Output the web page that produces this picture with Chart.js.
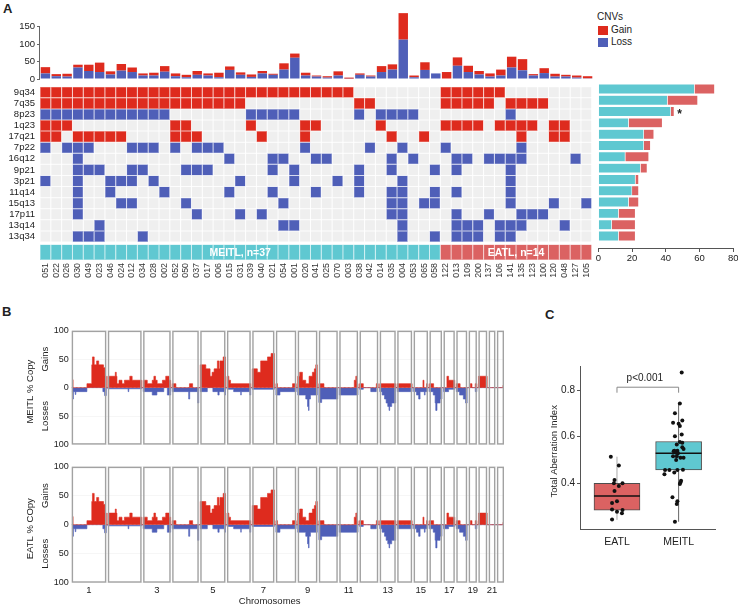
<!DOCTYPE html>
<html>
<head>
<meta charset="utf-8">
<script src="https://cdn.jsdelivr.net/npm/chart.js@4.4.1/dist/chart.umd.min.js"></script>
<style>
  html, body { margin: 0; background: #fff; overflow: hidden; }
  #page { position: relative; width: 738px; height: 606px; overflow: hidden; font-family: 'Liberation Sans', Arial, sans-serif; color: #222; }
  #page canvas { position: absolute; }
  .txt { position: absolute; white-space: nowrap; }
  .panel { position: absolute; font-weight: bold; font-size: 13px; }
  .sw { position: absolute; width: 10px; height: 9px; }
</style>
</head>
<body>
<div id="page">
  <div class="panel" style="left:3px;top:1px">A</div>
  <div class="panel" style="left:2px;top:304px">B</div>
  <div class="panel" style="left:545px;top:307px">C</div>

  <div class="txt" style="left:597px;top:11px;font-size:10px">CNVs</div>
  <div class="sw" style="left:598px;top:26px;background:#de2b1e"></div>
  <div class="txt" style="left:611px;top:24px;font-size:10px">Gain</div>
  <div class="sw" style="left:598px;top:38px;background:#4f5fb8"></div>
  <div class="txt" style="left:611px;top:36px;font-size:10px">Loss</div>

  <canvas id="topBars" width="600" height="87" style="left:0;top:0"></canvas>
  <canvas id="heatmap" width="600" height="220" style="left:0;top:76px"></canvas>
  <canvas id="sideBars" width="185" height="190" style="left:560px;top:76px"></canvas>
  <canvas id="genomeMeitl" width="520" height="135" style="left:0;top:318px"></canvas>
  <canvas id="genomeEatl" width="520" height="151" style="left:0;top:455px"></canvas>
  <canvas id="boxChart" width="218" height="256" style="left:520px;top:350px"></canvas>
</div>
<script>
// ---- panel A data ----
const samples = ['051','022','026','030','049','023','046','024','012','034','028','002','052','050','037','017','006','015','031','039',
  '040','021','054','001','020','041','025','070','003','038','042','014','035','004','053','065','058',
  '122','013','109','200','137','106','141','135','123','100','120','048','127','105'];
const meitlCount = 37;
const groupNames = ['MEITL, n=37', 'EATL, n=14'];

// CNVs per sample (top bars)
const lossCounts = [16,8,7,33,23,20,13,24,20,10, 10,21,8,5,12,10,5,26,12,6, 16,12,27,61,10,7,4,10,1,12, 7,20,27,113,5,26,16,0,38,20, 13,7,10,33,25,10,17,7,7,4, 2];
const gainCounts = [18,6,8,8,18,27,9,19,13,6, 8,16,8,7,11,6,13,10,7,7, 7,3,18,12,8,3,4,12,3,4, 3,17,15,76,5,22,0,20,24,18, 10,9,17,31,32,4,14,8,5,6, 6];
const topTicks = [0, 50, 100, 150];

const rowNames = ['9q34','7q35','8p23','1q23','17q21','7p22','16q12','9p21','3p21','11q14','15q13','17p11','13q14','13q34'];
// G = gain, L = loss, . = none ; one char per sample, groups of ten
const cnvRows = [
  'GGGGGGGGGG GGGGGGGGGG GGGGGGGGG. .......GGG GGG....... .',
  'GGGGGGGGGG GGGGGGGGG. .........G G......GGG GG.GGGG... .',
  'LLLLLLLLLL LL.......L LLLL.....L .LLLL..... ...L...... .',
  'GGG....... ..GG.....G ....GG.... .G.....GGG G.GGGG.GG. .',
  'GG.GGGGG.. ..GGG..... G...G..... ..G..G.... ....G..GG. .',
  'L.LLL...LL L.L.LLL... ....L..... L..L...L.. ....L..... .',
  '...L...... .......L.. .LL..LL... ..L.L...LL .LLLL....L .',
  '...LLL..LL ...LLL.... .L.L.....L ..L...L.L. ...L...... .',
  'L..L..LLL. L.......L. ...L...L.L ...L...... ...L...... .',
  '...L..L... .L.....L.. .L...L...L ..LL..L.L. ...L...... .',
  '...L...LL. ...L...... ..L....... ..LL.LL... ...L...L.. L',
  '...L...... ....L...L. L......... ..LL....L. .L..LLL... .',
  '.....L.... .......... ..LL...... ...L....LL L.LLL...L. .',
  '...LLL...L .......... .......... ...L..L.LL L.LL...... .'
];

// frequency (%) per region, split by group
const sideMeitl = [57, 41, 43, 18, 27, 27, 16, 25, 22, 20, 18, 12, 8, 12];
const sideEatl = [12, 18, 2, 20, 6, 4, 14, 4, 2, 4, 6, 10, 14, 10];

// ---- panel B data ----
const chromLen = [249,243,198,191,181,171,159,146,141,136,135,134,115,107,103,90,81,78,59,63,48,51];
const chromTicks = [1,3,5,7,9,11,13,15,17,19,21];
// [position within chromosome (0-1), % of cases]
const gainProfile = [
  [[0,0],[0.02,14],[0.04,0],[0.44,7],[0.58,40],[0.6,54],[0.65,40],[0.72,47],[0.78,40],[0.92,35],[0.96,20]],
  [[0,20],[0.22,27],[0.25,20],[0.27,7],[0.33,13],[0.42,7],[0.49,13],[0.65,20],[0.72,13]],
  [[0,13],[0.15,7],[0.33,13],[0.39,20],[0.45,13],[0.51,7],[0.7,13],[0.82,20],[0.94,13]],
  [[0,7],[0.14,0],[0.65,7],[0.77,0]],
  [[0,40],[0.22,33],[0.39,20],[0.47,27],[0.55,33],[0.68,47],[0.74,33],[0.78,47],[0.91,54]],
  [[0,20],[0.08,13],[0.15,7]],
  [[0,33],[0.23,27],[0.38,47],[0.69,54],[0.85,60]],
  [[0,7],[0.08,0],[0.82,7]],
  [[0,20],[0.1,27],[0.24,13],[0.41,7],[0.58,20],[0.75,27],[0.85,33],[0.92,40]],
  [[0,7],[0.27,0]],
  [[0,0],[0.8,13],[0.88,20],[0.94,7]],
  [[0,7],[0.2,0],[0.9,7]],
  [[0,7]],
  [[0,7]],
  [[0,0],[0.65,13],[0.72,0],[0.9,7]],
  [[0,7],[0.33,0]],
  [[0,0],[0.3,20],[0.45,13]],
  [[0,7],[0.35,0]],
  [[0,0],[0.2,7],[0.4,0],[0.8,7]],
  [[0,20]],
  [[0,0]],
  [[0,0],[0.85,4]]
];
const lossProfile = [
  [[0,-7],[0.02,-20],[0.05,-7],[0.1,-12],[0.12,-7],[0.44,0],[0.9,-7],[0.95,-14]],
  [[0,-2],[0.6,-7],[0.62,-2]],
  [[0,-7],[0.33,-13],[0.5,-7],[0.75,0],[0.88,-13]],
  [[0,-7],[0.62,-20],[0.66,-7],[0.96,-27]],
  [[0,-7],[0.28,0],[0.5,-7],[0.7,-13],[0.75,-7],[0.96,-13]],
  [[0,-3],[0.28,-7],[0.58,-13],[0.6,-7],[0.96,-13]],
  [[0,-3]],
  [[0,-13],[0.2,-7]],
  [[0,-13],[0.41,-20],[0.5,-33],[0.55,-40],[0.58,-20],[0.65,-13]],
  [[0,-26],[0.15,-20]],
  [[0,-13]],
  [[0,-3],[0.2,0],[0.6,-7],[0.9,0]],
  [[0,-7],[0.15,-13],[0.3,-20],[0.4,-27],[0.5,-33],[0.58,-40],[0.62,-33],[0.75,-27]],
  [[0,-7]],
  [[0,-7],[0.2,-13],[0.35,-20],[0.45,-7],[0.75,-13],[0.8,-7]],
  [[0,-7],[0.3,-13],[0.45,-27],[0.5,-40],[0.6,-27],[0.85,-20]],
  [[0,-7],[0.45,-3]],
  [[0,-7],[0.3,-13],[0.65,-20],[0.85,-27]],
  [[0,0],[0.8,-7]],
  [[0,0]],
  [[0,0]],
  [[0,0]]
];

// ---- panel C data ----
const boxGroups = ['EATL', 'MEITL'];
const boxQ1 = [0.285, 0.457];
const boxMedian = [0.345, 0.529];
const boxQ3 = [0.40, 0.579];
const whiskerLow = [0.243, 0.235];
const whiskerHigh = [0.514, 0.742];
const eatlPoints = [[0.90,0.514],[1.03,0.476],[0.96,0.414],[0.95,0.40],[1.09,0.40],[1.03,0.388],[0.96,0.367],[1.00,0.323],
  [0.92,0.315],[0.92,0.288],[1.09,0.285],[1.00,0.278],[1.08,0.271],[0.92,0.245]];
const meitlPoints = [[2.05,0.875],[2.02,0.742],[1.94,0.70],[2.06,0.669],[1.91,0.66],[2.00,0.655],[2.02,0.646],[2.05,0.609],
  [1.94,0.602],[2.02,0.577],[1.97,0.566],[2.06,0.554],[2.08,0.547],[1.93,0.54],[1.98,0.539],[1.96,0.531],[1.99,0.529],
  [1.91,0.516],[1.97,0.516],[2.03,0.509],[2.08,0.509],[1.96,0.50],[1.78,0.457],[1.85,0.457],[1.98,0.457],[2.07,0.458],
  [1.77,0.439],[1.93,0.446],[2.04,0.411],[2.03,0.403],[2.02,0.397],[1.90,0.34],[1.98,0.323],[1.97,0.311],[1.94,0.235],
  [1.92,0.537],[2.06,0.574]];
const pLabel = 'p<0.001';

// ---- colours ----
const RED = '#de2b1e', BLUE = '#4f5fb8', GREY = '#efefef';
const CYAN = '#5fc8d1', SALMON = '#db6262';
const FONT = "'Liberation Sans', Arial, sans-serif";

Chart.defaults.font.family = FONT;
Chart.defaults.color = '#222';
Chart.defaults.animation = false;
Chart.defaults.events = [];
Chart.defaults.plugins.legend.display = false;
Chart.defaults.plugins.tooltip.enabled = false;

function vText(ctx, text, x, y, font) {
  ctx.save();
  ctx.translate(x, y);
  ctx.rotate(-Math.PI / 2);
  ctx.font = font;
  ctx.fillStyle = '#222';
  ctx.textAlign = 'center';
  ctx.textBaseline = 'middle';
  ctx.fillText(text, 0, 0);
  ctx.restore();
}

// 1. barras de CNVs por amostra
const topAxisLine = {
  id: 'topAxisLine',
  afterDraw(chart) {
    const { ctx, chartArea, scales: { y } } = chart;
    ctx.save();
    ctx.strokeStyle = '#666';
    ctx.lineWidth = 1;
    ctx.beginPath();
    ctx.moveTo(chartArea.left - 0.5, y.getPixelForValue(0));
    ctx.lineTo(chartArea.left - 0.5, y.getPixelForValue(topTicks[topTicks.length - 1]));
    ctx.stroke();
    ctx.restore();
  }
};

new Chart(document.getElementById('topBars'), {
  type: 'bar',
  data: {
    labels: samples,
    datasets: [
      { label: 'Loss', data: lossCounts, backgroundColor: BLUE, barPercentage: 0.87, categoryPercentage: 1 },
      { label: 'Gain', data: gainCounts, backgroundColor: RED, barPercentage: 0.87, categoryPercentage: 1 }
    ]
  },
  options: {
    responsive: false,
    layout: { padding: { left: 0, right: 7, top: 10, bottom: 8 } },
    scales: {
      x: { stacked: true, display: false },
      y: {
        stacked: true, min: 0, max: 198,
        ticks: { font: { size: 9.5 }, padding: 2 },
        grid: { drawOnChartArea: false, tickLength: 3, color: '#666' },
        border: { display: false },
        afterBuildTicks: s => { s.ticks = topTicks.map(v => ({ value: v })); },
        afterFit: s => { s.width = 40; }
      }
    }
  },
  plugins: [topAxisLine]
});

// 2. heatmap + faixa de grupos
const cellColor = { G: RED, L: BLUE, '.': GREY };
const cellEdge = { G: '#ee8e86', L: '#a4addc', '.': '#fcfcfc' };
const bandRange = [14.22, 15.62];

const heatSets = cnvRows.map((row, r) => {
  const cells = row.replace(/ /g, '').split('');
  return {
    label: rowNames[r],
    data: cells.map(() => [r, r + 1]),
    backgroundColor: cells.map(c => cellColor[c]),
    borderColor: cells.map(c => cellEdge[c]),
    borderWidth: 0.5, borderSkipped: false, inflateAmount: 0,
    barPercentage: 1, categoryPercentage: 1, grouped: false
  };
});
heatSets.push({
  label: 'group',
  data: samples.map(() => bandRange),
  backgroundColor: samples.map((s, i) => i < meitlCount ? CYAN : SALMON),
  borderColor: samples.map((s, i) => i < meitlCount ? '#96dbe1' : '#e99696'),
  borderWidth: 0.5, borderSkipped: false, inflateAmount: 0,
  barPercentage: 1, categoryPercentage: 1, grouped: false
});

const bandText = {
  id: 'bandText',
  afterDatasetsDraw(chart) {
    const { ctx, scales: { x, y } } = chart;
    const half = (x.getPixelForValue(1) - x.getPixelForValue(0)) / 2;
    const yc = y.getPixelForValue((bandRange[0] + bandRange[1]) / 2);
    const spans = [[0, meitlCount - 1], [meitlCount, samples.length - 1]];
    ctx.save();
    ctx.font = 'bold 10.5px ' + FONT;
    ctx.fillStyle = '#fff';
    ctx.textAlign = 'center';
    ctx.textBaseline = 'middle';
    spans.forEach(([a, b], i) => {
      const xc = (x.getPixelForValue(a) - half + x.getPixelForValue(b) + half) / 2;
      ctx.fillText(groupNames[i], xc, yc + 0.5);
    });
    ctx.restore();
  }
};

new Chart(document.getElementById('heatmap'), {
  type: 'bar',
  data: { labels: samples, datasets: heatSets },
  options: {
    responsive: false,
    layout: { padding: { left: 0, right: 7, top: 7.3, bottom: 0 } },
    scales: {
      x: {
        grid: { display: false, drawTicks: false }, border: { display: false },
        ticks: { autoSkip: false, minRotation: 90, maxRotation: 90, padding: 3, font: { size: 8.8 }, color: '#333' },
        afterFit: s => { s.height = 36; }
      },
      y: {
        type: 'linear', reverse: true, min: 0, max: bandRange[1],
        grid: { display: false, drawTicks: false }, border: { display: false },
        afterBuildTicks: s => { s.ticks = rowNames.map((n, i) => ({ value: i + 0.5 })); },
        ticks: { autoSkip: false, callback: (v, i) => rowNames[i], font: { size: 9.5 }, padding: 5 },
        afterFit: s => { s.width = 40; }
      }
    }
  },
  plugins: [bandText]
});

// 3. frequências laterais
const sideStar = {
  id: 'sideStar',
  afterDatasetsDraw(chart) {
    const { ctx, scales: { x, y } } = chart;
    ctx.save();
    ctx.font = 'bold 12px ' + FONT;
    ctx.fillStyle = '#222';
    ctx.textAlign = 'left';
    ctx.textBaseline = 'middle';
    ctx.fillText('*', x.getPixelForValue(sideMeitl[2] + sideEatl[2]) + 3, y.getPixelForValue(2) + 3);
    ctx.restore();
  }
};

new Chart(document.getElementById('sideBars'), {
  type: 'bar',
  data: {
    datasets: [
      { label: 'MEITL', data: sideMeitl.map((v, i) => ({ x: v, y: i })), backgroundColor: CYAN,
        borderColor: 'rgba(255,255,255,0.5)', borderWidth: 0.5, barPercentage: 0.88, categoryPercentage: 1 },
      { label: 'EATL', data: sideEatl.map((v, i) => ({ x: v, y: i })), backgroundColor: SALMON,
        borderColor: 'rgba(255,255,255,0.5)', borderWidth: 0.5, barPercentage: 0.88, categoryPercentage: 1 }
    ]
  },
  options: {
    indexAxis: 'y',
    responsive: false,
    layout: { padding: { left: 38.3, right: 11.7, top: 7.3, bottom: 0 } },
    scales: {
      y: { type: 'linear', reverse: true, min: -0.5, max: 14.06, stacked: true, offset: false, display: false },
      x: {
        stacked: true, min: 0, max: 80,
        ticks: { stepSize: 20, font: { size: 9.5 }, padding: 1 },
        grid: { drawOnChartArea: false, tickLength: 4, color: '#555' },
        border: { color: '#555' },
        afterFit: s => { s.height = 18; }
      }
    }
  },
  plugins: [sideStar]
});

// 4. perfis genômicos (painel B)
const chromGap = 11;
const chromStart = [];
chromLen.reduce((acc, len, i) => { chromStart[i] = acc; return acc + len + chromGap; }, 0);
const genomeEnd = chromStart[chromLen.length - 1] + chromLen[chromLen.length - 1];

function profilePoints(profile) {
  const pts = [];
  profile.forEach((steps, c) => {
    steps.forEach(([f, v]) => pts.push({ x: chromStart[c] + f * chromLen[c], y: v }));
    pts.push({ x: chromStart[c] + chromLen[c], y: 0 });
  });
  return pts;
}

const genomeFrame = {
  id: 'genomeFrame',
  beforeDatasetsDraw(chart) {
    const { ctx, chartArea: a, scales: { y } } = chart;
    const y0 = y.getPixelForValue(0);
    ctx.save();
    ctx.strokeStyle = '#a8a8a8';
    ctx.lineWidth = 0.8;
    ctx.setLineDash([2, 2]);
    ctx.beginPath();
    ctx.moveTo(a.left, y0);
    ctx.lineTo(a.right, y0);
    ctx.stroke();
    ctx.restore();
  },
  afterDatasetsDraw(chart, args, opts) {
    const { ctx, chartArea: a, scales: { x, y } } = chart;
    ctx.save();
    ctx.strokeStyle = '#a2a2a2';
    ctx.lineWidth = 1.4;
    chromLen.forEach((len, c) => {
      const x0 = x.getPixelForValue(chromStart[c]);
      const x1 = x.getPixelForValue(chromStart[c] + len);
      ctx.strokeRect(x0 + 0.7, a.top + 0.7, x1 - x0 - 1.4, a.bottom - a.top - 1.4);
    });
    ctx.restore();
    const f = '9.5px ' + FONT;
    vText(ctx, opts.title, a.left - 41, (a.top + a.bottom) / 2 + 4, f);
    vText(ctx, 'Gains', a.left - 26, y.getPixelForValue(50), f);
    vText(ctx, 'Losses', a.left - 26, y.getPixelForValue(-50), f);
    if (opts.xTitle) {
      ctx.save();
      ctx.font = f;
      ctx.fillStyle = '#222';
      ctx.textAlign = 'center';
      ctx.textBaseline = 'middle';
      ctx.fillText(opts.xTitle, a.left + 198, a.bottom + 19);
      ctx.restore();
    }
  }
};

function genomeChart(id, title, showX, pad) {
  return new Chart(document.getElementById(id), {
    type: 'line',
    data: {
      datasets: [
        { label: 'Gains', data: profilePoints(gainProfile), stepped: true, fill: 'origin',
          backgroundColor: RED, borderColor: RED, borderWidth: 0.6, pointRadius: 0 },
        { label: 'Losses', data: profilePoints(lossProfile), stepped: true, fill: 'origin',
          backgroundColor: BLUE, borderColor: BLUE, borderWidth: 0.6, pointRadius: 0 }
      ]
    },
    options: {
      responsive: false,
      layout: { padding: pad },
      scales: {
        x: {
          type: 'linear', min: 0, max: genomeEnd, offset: false, display: showX,
          grid: { display: false, drawTicks: false }, border: { display: false },
          afterBuildTicks: s => { s.ticks = chromTicks.map(c => ({ value: chromStart[c - 1] + chromLen[c - 1] / 2 })); },
          ticks: { autoSkip: false, maxRotation: 0, padding: 2, font: { size: 9.5 }, callback: (v, i) => String(chromTicks[i]) },
          afterFit: s => { s.height = showX ? 23.3 : 0; }
        },
        y: {
          min: -100, max: 100,
          ticks: { stepSize: 50, font: { size: 9 }, padding: 3, callback: v => Math.abs(v) },
          grid: { color: '#f0f0f0', lineWidth: 0.6, drawTicks: false },
          border: { display: false },
          afterFit: s => { s.width = 71.7; }
        }
      },
      plugins: { genomeFrame: { title: title, xTitle: showX ? 'Chromosomes' : '' } }
    },
    plugins: [genomeFrame]
  });
}

genomeChart('genomeMeitl', 'MEITL % Copy', false, { left: 0, right: 16, top: 12.7, bottom: 7 });
// o painel EATL mostra o mesmo perfil
genomeChart('genomeEatl', 'EATL % COpy', true, { left: 0, right: 16, top: 11.7, bottom: 0 });

// 5. boxplot (painel C)
const boxExtras = {
  id: 'boxExtras',
  beforeDatasetsDraw(chart) {
    const { ctx, scales: { x, y } } = chart;
    ctx.save();
    ctx.lineWidth = 1;
    boxGroups.forEach((g, i) => {
      const xc = x.getPixelForValue(i + 1);
      ctx.strokeStyle = i === 0 ? '#aaaaaa' : '#666666';
      ctx.beginPath();
      ctx.moveTo(xc, y.getPixelForValue(whiskerLow[i]));
      ctx.lineTo(xc, y.getPixelForValue(whiskerHigh[i]));
      ctx.stroke();
    });
    ctx.restore();
  },
  afterDatasetDraw(chart, args) {
    if (args.index !== 0) return;
    const { ctx, scales: { x, y } } = chart;
    ctx.save();
    ctx.strokeStyle = '#111';
    ctx.lineWidth = 1.5;
    boxGroups.forEach((g, i) => {
      const xc = x.getPixelForValue(i + 1);
      const ym = y.getPixelForValue(boxMedian[i]);
      ctx.beginPath();
      ctx.moveTo(xc - 23, ym);
      ctx.lineTo(xc + 23, ym);
      ctx.stroke();
    });
    ctx.restore();
  },
  afterDraw(chart) {
    const { ctx, chartArea: a, scales: { x, y } } = chart;
    const x1 = x.getPixelForValue(1), x2 = x.getPixelForValue(2);
    const yb = y.getPixelForValue(0.812);
    ctx.save();
    ctx.strokeStyle = '#888';
    ctx.lineWidth = 1;
    ctx.beginPath();
    ctx.moveTo(x1, yb + 5.5);
    ctx.lineTo(x1, yb);
    ctx.lineTo(x2, yb);
    ctx.lineTo(x2, yb + 5.5);
    ctx.stroke();
    ctx.font = '10px ' + FONT;
    ctx.fillStyle = '#222';
    ctx.textAlign = 'center';
    ctx.textBaseline = 'middle';
    ctx.fillText(pLabel, (x1 + x2) / 2 - 3, yb - 9);
    ctx.restore();
    vText(ctx, 'Total Aberration Index', a.left - 26, (a.top + a.bottom) / 2 + 3, '9.5px ' + FONT);
  }
};

new Chart(document.getElementById('boxChart'), {
  type: 'scatter',
  data: {
    datasets: [
      { type: 'bar', label: 'box', data: boxGroups.map((g, i) => ({ x: i + 1, y: [boxQ1[i], boxQ3[i]] })),
        backgroundColor: [SALMON, CYAN], borderColor: '#4d4d4d', borderWidth: 1, borderSkipped: false,
        barThickness: 46, grouped: false, order: 2 },
      { type: 'scatter', label: 'cases', data: eatlPoints.concat(meitlPoints).map(([px, py]) => ({ x: px, y: py })),
        pointRadius: 2, backgroundColor: '#111', borderWidth: 0, order: 1 }
    ]
  },
  options: {
    responsive: false,
    layout: { padding: { left: 0, right: 22.4, top: 16.7, bottom: 0 } },
    scales: {
      x: {
        type: 'linear', min: 0.4, max: 2.6, offset: false,
        grid: { display: false, drawTicks: false }, border: { color: '#555' },
        afterBuildTicks: s => { s.ticks = boxGroups.map((g, i) => ({ value: i + 1 })); },
        ticks: { autoSkip: false, maxRotation: 0, padding: 6, font: { size: 10.5 }, callback: (v, i) => boxGroups[i] },
        afterFit: s => { s.height = 76.1; }
      },
      y: {
        type: 'linear', min: 0.2, max: 0.9,
        grid: { drawOnChartArea: false, tickLength: 3, color: '#555' }, border: { color: '#555' },
        afterBuildTicks: s => { s.ticks = [0.4, 0.6, 0.8].map(v => ({ value: v })); },
        ticks: { font: { size: 10 }, padding: 2, callback: v => v.toFixed(1) },
        afterFit: s => { s.width = 60; }
      }
    }
  },
  plugins: [boxExtras]
});
</script>
</body>
</html>
